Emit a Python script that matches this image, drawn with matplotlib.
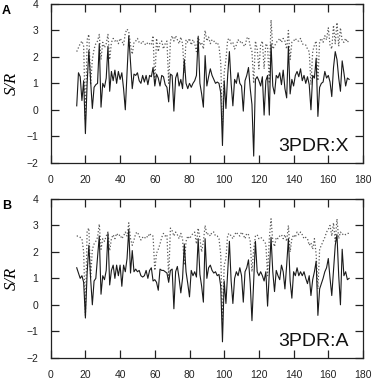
import numpy as np
import matplotlib
matplotlib.use('Agg')
import matplotlib.pyplot as plt

# %% 1.0 Data (S/R per residue)

residues = np.arange(15, 173)

# Panel A - 3PDR:X
sr_solid_x = [
    0.15, 1.4, 1.25, 0.35, 1.1, -0.9, 1.0, 2.25, 1.1, 0.05,
    0.85, 0.95, 1.0, 2.5, 0.1, 1.0, 0.85, 1.2, 2.4, 0.7,
    1.45, 1.1, 1.5, 1.0, 1.45, 1.15, 1.4, 0.8, 0.0, 1.4,
    2.8, 1.8, 0.8, 1.35, 1.3, 1.4, 1.1, 1.0, 1.3, 1.05,
    1.3, 0.95, 1.3, 1.25, 1.6, 0.9, 1.35, 1.2, 0.9, 1.3,
    1.25, 0.95, 0.85, 0.3, 1.35, 1.3, -0.05, 1.2, 1.4, 0.9,
    1.15, 0.8, 1.9, 1.0, 0.8, 1.0, 0.85, 1.0, 1.1, 1.3,
    2.75, 1.0, 0.6, 0.1, 2.05, 0.9, 1.25, 1.55, 1.3, 1.15,
    1.0, 1.05, 1.0, 0.65, -1.35, 1.1, 0.05, 1.3, 2.2, 1.0,
    0.15, 1.15, 1.0, 1.4, 1.0, 0.9, -0.05, 1.1, 1.3, 1.6,
    0.8, 0.2, -1.75, 1.15, 1.25, 1.1, 0.9, 1.25, -0.2, 1.1,
    1.3, -0.2, 2.5, 0.9, 0.6, 1.3, 1.2, 1.4, 0.95, 1.5,
    0.8, 0.45, 2.4, 0.6, 1.15, 0.9, 1.3, 1.45, 1.25, 1.55,
    1.1, 1.3, 1.0, 1.25, 0.95, 0.0, 1.3, 1.2, 1.95, -0.25,
    0.85, 1.0, 1.05, 1.45, 1.2, 1.3, 1.05, 0.5, 1.6, 2.2,
    1.9, 1.2, 0.7, 1.85, 1.4, 0.9, 1.2, 1.15,
]
sr_dotted_x = [
    2.2, 2.35, 2.5, 2.6, 2.4, -0.4, 2.65, 2.85, 0.95, 1.9,
    2.3, 2.5, 2.6, 2.85, 1.9, 2.55, 2.35, 2.5, 2.85, 1.9,
    2.55, 2.7, 2.6, 2.65, 2.5, 2.7, 2.6, 2.45, 2.9, 3.05,
    2.95, 2.45, 2.1, 2.55, 2.6, 2.7, 2.55, 2.5, 2.6, 2.5,
    2.45, 2.55, 2.5, 2.45, 2.8, 1.0, 2.7, 2.2, 2.55, 2.6,
    2.3, 2.5, 2.6, 1.0, 2.6, 2.8, 2.6, 2.8, 2.65, 2.5,
    2.75, 2.5, 1.4, 2.65, 2.55, 2.7, 2.45, 2.65, 2.5, 2.2,
    2.8, 2.45, 2.55, 2.3, 3.0, 2.6, 2.75, 2.5, 2.65, 2.6,
    2.5, 2.55, 2.4, 1.8, -0.6, 1.4, 1.9, 2.65, 2.7, 2.5,
    2.55, 2.3, 2.45, 2.65, 2.55, 2.6, 2.45, 2.4, 2.7, 2.75,
    2.4, 2.2, 1.0, 2.6, 2.3, 1.55, 2.45, 2.6, 1.55, 2.5,
    2.4, 1.0, 3.4, 2.3, 2.4, 2.55, 2.6, 2.7, 2.55, 2.7,
    2.6, 2.3, 3.0, 1.9, 2.55, 2.6, 2.7, 2.6, 2.6, 2.7,
    2.5, 2.45, 2.45, 2.3, 2.2, 0.95, 2.2, 2.45, 2.6, 1.1,
    2.6, 2.7, 2.55, 2.8, 2.65, 3.1, 2.45, 2.3, 3.2, 2.5,
    3.3, 2.4, 3.1, 2.6, 2.55, 2.7, 2.55, 2.65,
]

# Panel B - 3PDR:A
sr_solid_a = [
    1.4, 1.2, 1.0, 1.1, 0.85, -0.5, 1.2, 2.25, 1.0, 0.0,
    0.9, 1.0, 1.8, 2.6, 0.4, 1.1, 0.95, 1.3, 2.7, 0.75,
    1.3, 1.5, 1.0, 1.5, 1.1, 1.5, 0.7, 1.5, 1.25, 1.75,
    2.85, 1.2, 2.05, 1.25, 1.35, 1.25, 1.3, 1.1, 1.05, 1.1,
    1.3, 1.0, 1.3, 1.4, 0.9, 0.95, 0.85, 0.55, 1.35, 1.3,
    1.3, 1.25, 1.2, 0.85, 1.3, 1.35, -0.15, 1.25, 1.45, 1.0,
    0.45, 1.0, 2.3, 1.25, 0.8, 0.3, 1.3, 1.1, 1.25, 1.05,
    2.5, 1.15, 0.7, 0.1, 2.5, 1.0, 1.4, 1.5, 1.3, 1.2,
    1.25, 1.1, 1.15, 0.7, -1.4, 0.9, 0.05, 1.2, 2.4, 0.9,
    0.05, 1.0, 1.25, 1.1, 1.4, 1.1, 0.1, 1.25, 1.4, 1.7,
    0.8, -0.6, 0.9, 2.4, 1.25, 1.1, 1.25, 1.1, 0.9, 1.25,
    -0.05, 1.2, 2.55, 1.25, 0.5, 1.3, 1.1, 0.95, 1.5, 1.25,
    0.6, 1.5, 2.5, 0.9, 0.25, 1.25, 1.1, 1.4, 1.1, 1.25,
    1.1, 1.25, 1.0, 0.8, 1.1, 0.35, 0.95, 1.25, 1.65, -0.4,
    0.6, 0.8, 1.0, 1.25, 1.4, 1.75, 1.0, 0.35, 1.3, 2.25,
    2.65, 1.1, 0.0, 2.1, 1.1, 1.25, 0.95, 1.0,
]
sr_dotted_a = [
    2.6, 2.6, 2.55, 2.5, 2.0, -0.4, 2.8, 2.9, 1.0, 2.1,
    2.3, 2.4, 2.55, 3.05, 2.1, 2.5, 2.4, 2.6, 2.75, 2.05,
    2.5, 2.65, 2.5, 2.7, 2.6, 2.65, 2.5, 2.6, 2.75, 2.6,
    3.1, 2.5, 2.25, 2.45, 2.7, 2.75, 2.6, 2.45, 2.55, 2.5,
    2.6, 2.55, 2.7, 2.6, 2.6, 1.3, 1.95, 2.1, 2.3, 2.55,
    2.7, 2.6, 2.65, 1.0, 2.9, 2.8, 2.6, 2.75, 2.65, 2.5,
    2.7, 2.5, 1.5, 2.4, 2.6, 2.5, 2.6, 2.7, 2.75, 2.3,
    2.9, 2.5, 2.0, 2.4, 3.0, 2.65, 2.7, 2.6, 2.75, 2.75,
    2.6, 2.6, 2.5, 1.9, -0.6, 1.5, 1.75, 2.65, 2.7, 2.6,
    2.5, 2.65, 2.75, 2.65, 2.6, 2.75, 2.65, 2.5, 2.7, 2.65,
    2.4, 1.25, 2.1, 2.6, 2.65, 2.5, 2.55, 2.5, 2.4, 2.3,
    1.1, 2.5, 3.25, 2.4, 2.2, 2.55, 2.5, 2.6, 2.65, 2.5,
    2.65, 2.4, 3.0, 2.0, 2.5, 2.65, 2.55, 2.75, 2.65, 2.75,
    2.65, 2.5, 2.55, 2.5, 2.25, 2.35, 2.1, 2.5, 1.9, 0.6,
    2.1, 2.25, 2.4, 2.55, 2.75, 2.85, 3.0, 2.6, 3.1, 2.4,
    3.25, 2.5, 2.75, 2.65, 2.7, 2.65, 2.7, 2.7,
]

panels = [
    ('A', '3PDR:X', sr_solid_x, sr_dotted_x),
    ('B', '3PDR:A', sr_solid_a, sr_dotted_a),
]

xticks = [0, 20, 40, 60, 80, 100, 120, 140, 160, 180]
yticks = [-2, -1, 0, 1, 2, 3, 4]

# %% 2.0 Plot

plt.rcParams['font.family'] = ['Liberation Sans', 'DejaVu Sans']

W, H = 372, 379
fig = plt.figure(figsize=(W / 100, H / 100), dpi=100)

# axes boxes in pixels: left, top, right, bottom
boxes = [(50.7, 4.0, 363.0, 162.7), (50.7, 199.0, 363.0, 357.7)]

for (letter, name, solid, dotted), (l, t, r, b) in zip(panels, boxes):
    ax = fig.add_axes([l / W, 1 - b / H, (r - l) / W, (b - t) / H])
    ax.plot(residues, dotted, color='#5a5a5a', linestyle=':', linewidth=0.9)
    ax.plot(residues, solid, color='#1a1a1a', linewidth=0.8)
    ax.set_xlim(0, 180)
    ax.set_ylim(-2, 4)
    ax.set_xticks(xticks)
    ax.set_yticks(yticks)
    ax.tick_params(direction='in', length=6, width=0.9, top=True, right=True,
                   labelsize=7.5, colors='#222222')
    ax.tick_params(axis='x', pad=9)
    ax.tick_params(axis='y', pad=9)
    for s in ax.spines.values():
        s.set_linewidth(0.9)
        s.set_color('#222222')
    ax.text(0.955, 0.05, name, transform=ax.transAxes, ha='right', va='bottom',
            fontsize=14, color='#111111')

    fig.text(2 / W, 1 - (t + 1) / H, letter, ha='left', va='top',
             fontsize=9, fontweight='bold')
    fig.text(12 / W, 1 - (t + b) / 2 / H, 'S/R', rotation=90, ha='center',
             va='center', fontsize=12, style='italic',
             family=['Liberation Serif', 'DejaVu Serif'])

fig.savefig('out.png', dpi=100)
